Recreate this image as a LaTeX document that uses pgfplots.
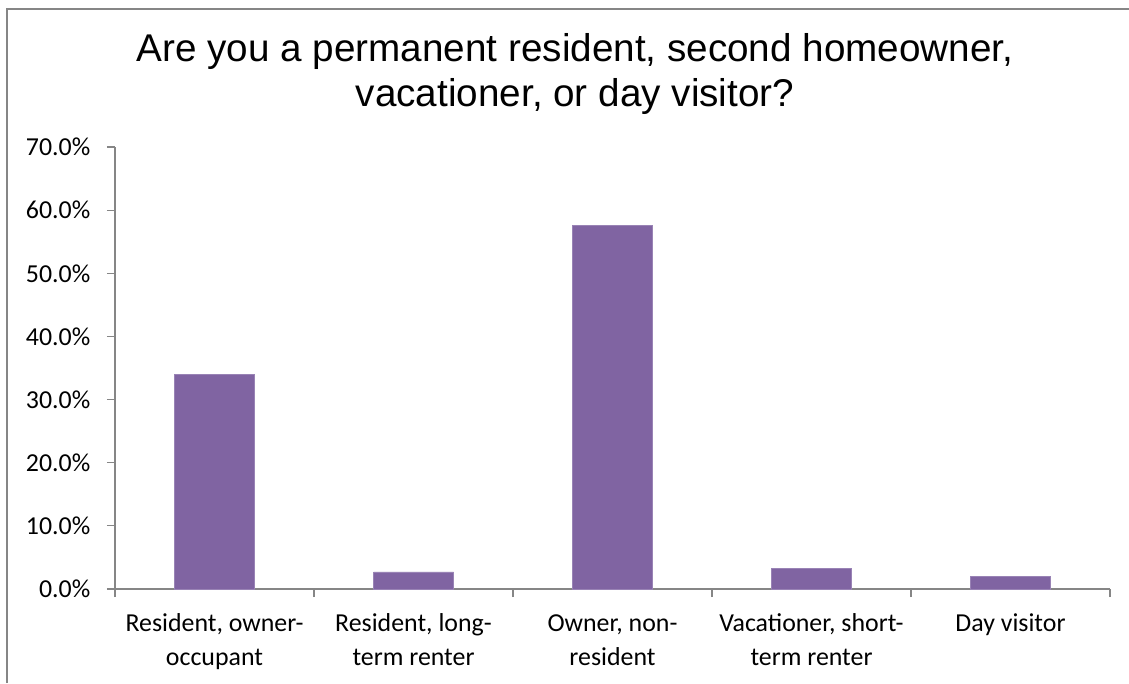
\documentclass[border=0pt]{standalone}
\usepackage{pgfplots}
\pgfplotsset{compat=1.18}
\usepackage{fontspec}
\setmainfont{Carlito}
\newfontfamily\titlefont{Liberation Sans}
\definecolor{barpurple}{HTML}{8064A2}
\definecolor{axgray}{HTML}{868686}
\begin{document}
\begin{tikzpicture}
\useasboundingbox (0,0) rectangle (846.75pt,512.25pt);
\draw[axgray, line width=1.5pt] (5pt,0pt) -- (5pt,505.6pt) -- (846.75pt,505.6pt);
\node[font={\titlefont\fontsize{29}{33.75}\selectfont}, align=center] at (431.25pt,456.4pt)
  {Are you a permanent resident, second homeowner,\\vacationer, or day visitor?};
\begin{axis}[
  at={(86.25pt,70.5pt)}, anchor=south west,
  scale only axis, width=746.25pt, height=331.5pt,
  xmin=-0.5, xmax=4.5, ymin=0, ymax=70,
  axis x line*=bottom, axis y line*=left,
  axis line style={axgray, line width=0.9pt},
  tick style={axgray, line width=0.9pt},
  tick align=outside, major tick length=6pt,
  ytick={0,10,...,70},
  yticklabel={\pgfmathprintnumber[fixed,fixed zerofill,precision=1]{\tick}\%},
  /pgf/number format/assume math mode=true,
  ticklabel style={font=\fontsize{19.4}{24}\selectfont},
  yticklabel style={xshift=-9pt},
  xtick={-0.5,0.5,1.5,2.5,3.5,4.5},
  xticklabel=\empty,
  typeset ticklabels with strut,
  extra x ticks={0,1,2,3,4},
  extra x tick labels={{Resident, owner-\\occupant},{Resident, long-\\term renter},{Owner, non-\\resident},{Vacationer, short-\\term renter},{Day visitor}},
  extra x tick style={major tick length=0pt, xticklabel style={align=center, anchor=north, yshift=-10pt, font=\fontsize{19.4}{26}\selectfont}},
  ybar, bar width=60pt,
]
\addplot[fill=barpurple, draw=barpurple!80!white, line width=0.4pt] coordinates {(0,34.0) (1,2.7) (2,57.6) (3,3.3) (4,2.0)};
\end{axis}
\end{tikzpicture}
\end{document}
